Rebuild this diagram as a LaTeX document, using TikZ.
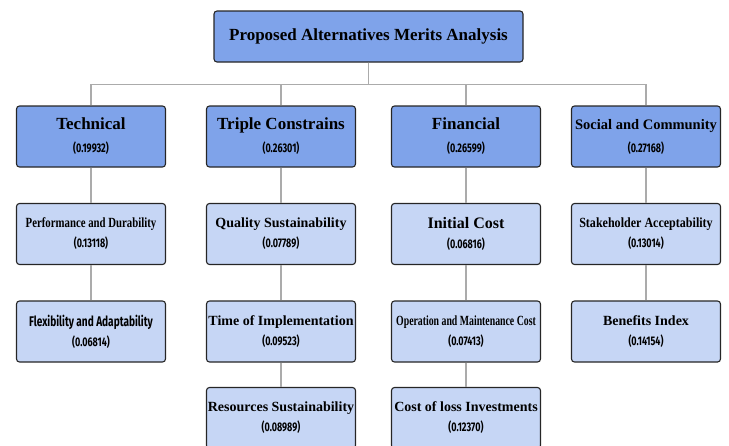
\documentclass[tikz,border=0pt]{standalone}
\usepackage{fontspec}
\setmainfont{Liberation Serif}
\newfontfamily\numfont[FakeStretch=0.72]{Fira Sans}
\definecolor{mainblue}{HTML}{7FA3EA}
\definecolor{subblue}{HTML}{C6D6F5}
\definecolor{linegray}{HTML}{ABABAB}
\definecolor{boxline}{HTML}{262626}
\newcommand{\wt}[1]{\\[3pt]{\numfont\fontsize{12.5}{13}\selectfont(#1)}}

\begin{document}
\begin{tikzpicture}[
        x=1pt, y=1pt,
        every node/.style={draw=boxline, line width=1.1pt, rounded corners=3pt, align=center,
            minimum width=149pt, minimum height=61pt, inner sep=0pt},
        rootbox/.style={fill=mainblue, minimum width=309pt, minimum height=51pt,
            font=\fontsize{17}{20}\selectfont\bfseries},
        mainbox/.style={fill=mainblue, font=\fontsize{17}{20}\selectfont\bfseries},
        subbox/.style={fill=subblue, font=\fontsize{14}{17}\selectfont\bfseries},
        edge from parent/.style ={draw=linegray, line width=1.8pt},
        level 1/.style={sibling distance=185pt, level distance=100pt,
            edge from parent path={(\tikzparentnode.south) -- ++(0,-22) -| (\tikzchildnode.north)}},
        level 2/.style={level distance=97.5pt},
        level 3/.style={level distance=97.5pt},
        level 4/.style={level distance=86.5pt},
    ]
    \clip (0,0) rectangle (729,-445);
    \node[rootbox](root) at (368.5,-36.5){Proposed Alternatives Merits Analysis}
    child{node[mainbox](tech){Technical\wt{0.19932}}
        child{node[subbox](perf){\scalebox{0.77}[1]{Performance and Durability}\wt{0.13118}}
            child{node[subbox](flex){{\numfont\fontsize{14}{17}\selectfont Flexibility and Adaptability}\wt{0.06814}}}
        }
    }
    child[xshift=5]{node[mainbox](triple){Triple Constrains\wt{0.26301}}
        child{node[subbox](qual){Quality Sustainability\wt{0.07789}}
            child{node[subbox](time){Time of Implementation\wt{0.09523}}
                child{node[subbox](res){Resources Sustainability\wt{0.08989}}}
            }
        }
    }
    child[xshift=5]{node[mainbox](fin){Financial\wt{0.26599}}
        child{node[subbox](init){{\fontsize{16}{19}\selectfont Initial Cost}\wt{0.06816}}
            child{node[subbox](opm){\scalebox{0.7}[1]{Operation and Maintenance Cost}\wt{0.07413}}
                child{node[subbox](loss){Cost of loss Investments\wt{0.12370}}}
            }
        }
    }
    child{node[mainbox](social){{\fontsize{14.5}{17}\selectfont Social and Community}\wt{0.27168}}
        child{node[subbox](stake){\scalebox{0.86}[1]{Stakeholder Acceptability}\wt{0.13014}}
            child{node[subbox](ben){Benefits Index\wt{0.14154}}}
        }
    }
    ;

    \end{tikzpicture}
\end{document}
